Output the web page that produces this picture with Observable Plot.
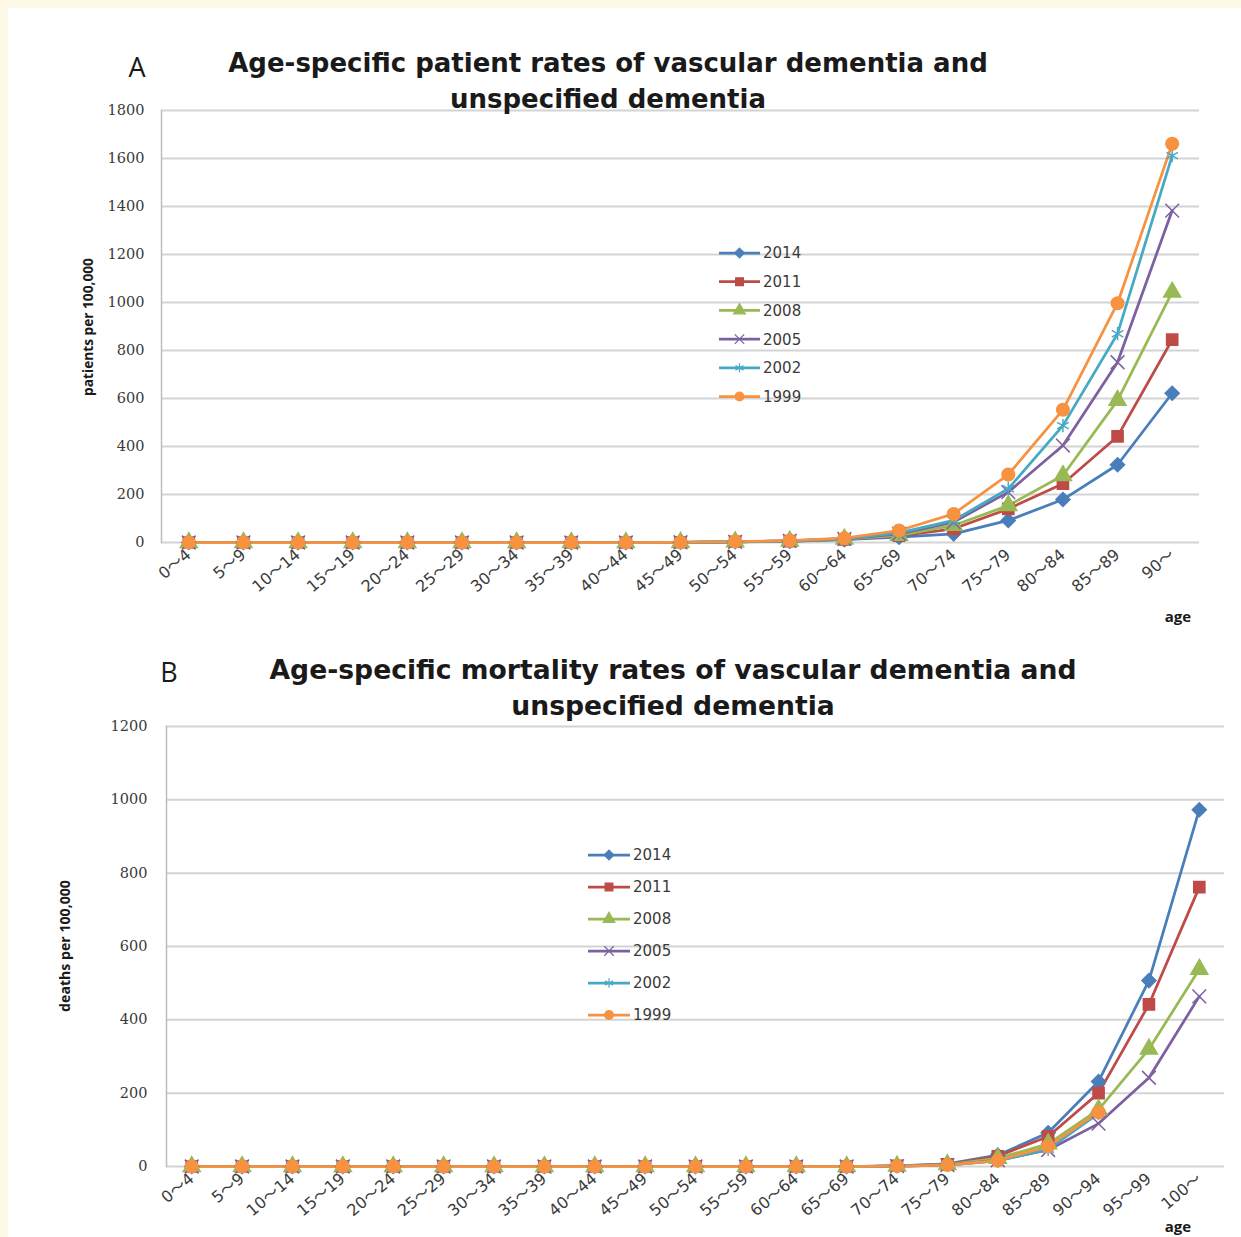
<!DOCTYPE html>
<html><head><meta charset="utf-8">
<script src="https://cdn.jsdelivr.net/npm/d3@7"></script>
<script src="https://cdn.jsdelivr.net/npm/@observablehq/plot@0.6"></script>
<style>
html,body{margin:0;padding:0;background:#fef9e6;}
#page{position:relative;width:1241px;height:1237px;overflow:hidden;background:#fef9e6;}
#panel{position:absolute;left:8px;top:8px;width:1233px;height:1229px;background:#fff;}
.chart{position:absolute;left:0;}
</style></head><body>
<div id="page"><div id="panel"></div></div>
<script>
// ---- data ----
const years = ["2014","2011","2008","2005","2002","1999"];
const colors = ["#4a7ebb","#be4b48","#98b954","#7d60a0","#46aac5","#f69240"];
const symbols = ["diamond2","square","triangle","times","asterisk","circle"];

const agesA = ["0～4","5～9","10～14","15～19","20～24","25～29","30～34","35～39","40～44","45～49","50～54","55～59","60～64","65～69","70～74","75～79","80～84","85～89","90～"];
const patients2014 = [0,0,0,0,0,0,0,0,0,1,3,5,12,22,36,92,179,324,622];
const patients2011 = [0,0,0,0,0,0,0,0,0,1,3,6,13,28,57,140,245,442,845];
const patients2008 = [0,0,0,0,0,0,0,0,0,1,3,6,14,30,71,154,279,592,1043];
const patients2005 = [0,0,0,0,0,0,0,0,0,1,3,7,15,36,85,210,404,751,1383];
const patients2002 = [0,0,0,0,0,0,0,0,0,1,3,7,16,40,92,224,487,870,1612];
const patients1999 = [0,0,0,0,0,0,0,0,0,1,4,8,18,50,119,283,553,997,1661];

const agesB = ["0～4","5～9","10～14","15～19","20～24","25～29","30～34","35～39","40～44","45～49","50～54","55～59","60～64","65～69","70～74","75～79","80～84","85～89","90～94","95～99","100～"];
const deaths2014 = [0,0,0,0,0,0,0,0,0,0,0,0,0,0,2,7,31,92,232,507,973];
const deaths2011 = [0,0,0,0,0,0,0,0,0,0,0,0,0,0,2,6,28,82,200,442,762];
const deaths2008 = [0,0,0,0,0,0,0,0,0,0,0,0,0,0,1,5,22,62,155,320,538];
const deaths2005 = [0,0,0,0,0,0,0,0,0,0,0,0,0,0,1,4,17,45,117,242,464];
const deaths2002 = [0,0,0,0,0,0,0,0,0,0,0,0,0,0,1,4,15,47,145,null,null];
const deaths1999 = [0,0,0,0,0,0,0,0,0,0,0,0,0,0,1,4,16,55,148,null,null];

const ticksA = [0,200,400,600,800,1000,1200,1400,1600,1800];
const ticksB = [0,200,400,600,800,1000,1200];

const titleA = ["Age-specific patient rates of vascular dementia and","unspecified dementia"];
const titleB = ["Age-specific mortality rates of vascular dementia and","unspecified dementia"];
const yLabelA = "patients per 100,000";
const yLabelB = "deaths per 100,000";
const xLabel = "age";

// ---- build tables ----
function table(ages, series) {
  const out = [];
  years.forEach((yr, i) => ages.forEach((a, j) => out.push({age: a, year: yr, value: series[i][j]})));
  return out;
}
const dataA = table(agesA, [patients2014,patients2011,patients2008,patients2005,patients2002,patients1999]);
const dataB = table(agesB, [deaths2014,deaths2011,deaths2008,deaths2005,deaths2002,deaths1999]);

const sansFont = "'Open Sans', 'Noto Sans CJK JP', sans-serif";
const tickFont = "'DejaVu Sans', 'Noto Sans CJK JP', sans-serif";
const titleFont = "'DejaVu Sans', sans-serif";
const serifFont = "'DejaVu Serif', serif";

function makeChart(o) {
  return Plot.plot({
    width: 1241, height: o.height,
    marginLeft: o.ml, marginRight: o.mr, marginTop: o.mt, marginBottom: o.mb,
    style: {background: "transparent", overflow: "visible", color: "#3a3a3a", fontFamily: sansFont},
    x: {type: "point", domain: o.ages, padding: 0.5, align: 0.5, round: false, label: null},
    y: {domain: o.ydomain, label: null},
    color: {domain: years, range: colors},
    symbol: {domain: years, range: symbols},
    marks: [
      Plot.gridY(o.ticks, {stroke: "#d4d4d4", strokeOpacity: 1, strokeWidth: 2}),
      Plot.frame({anchor: "left", stroke: "#bdbdbd", strokeWidth: 1.5}),
      Plot.axisY(o.ticks, {tickSize: 0, tickPadding: o.tp, tickFormat: d => String(d), fontFamily: serifFont, fontSize: 14.5, label: null}),
      Plot.axisX({tickSize: 0, tickPadding: 10, tickRotate: -40, fontSize: 16, fontFamily: tickFont, label: null}),
      Plot.line(o.data, {x: "age", y: "value", z: "year", stroke: "year", strokeWidth: 2.75, curve: "linear"}),
      Plot.dot(o.data.filter(d => d.value != null), {x: "age", y: "value", symbol: "year", fill: "year", stroke: "year", r: 6.3, strokeWidth: 1.5})
    ]
  });
}

const d3Symbols = [d3.symbolDiamond2, d3.symbolSquare, d3.symbolTriangle, d3.symbolTimes, d3.symbolAsterisk, d3.symbolCircle];

function fit(sel, target) {
  const w = sel.node().getComputedTextLength();
  const fs = +sel.attr("font-size");
  if (w > 0) sel.attr("font-size", fs * target / w);
  return +sel.attr("font-size");
}

function decorate(svg, o) {
  const s = d3.select(svg);
  // legend
  const g = s.append("g");
  years.forEach((yr, i) => {
    const y = o.lg.y0 + i * o.lg.dy;
    g.append("line").attr("x1", o.lg.x0).attr("x2", o.lg.x0 + o.lg.len).attr("y1", y).attr("y2", y)
      .attr("stroke", colors[i]).attr("stroke-width", 2.75);
    g.append("path").attr("d", d3.symbol(d3Symbols[i], 60)())
      .attr("transform", `translate(${o.lg.x0 + o.lg.len / 2},${y})`)
      .attr("fill", colors[i]).attr("stroke", colors[i]).attr("stroke-width", 1.2);
    g.append("text").attr("x", o.lg.x0 + o.lg.len + 3).attr("y", y).attr("dy", "0.36em")
      .attr("text-anchor", "start")
      .attr("font-family", tickFont).attr("font-size", 15).attr("fill", "#3a3a3a").text(yr);
  });
  // titles
  const lines = o.title.map((t, i) =>
    s.append("text").attr("x", o.tx).attr("y", o.ty + i * 36).attr("dy", "0.36em")
      .attr("text-anchor", "middle").attr("font-family", titleFont).attr("font-weight", 700)
      .attr("font-size", 24).attr("fill", "#1a1a1a").text(t));
  const fs = fit(lines[0], o.tw);
  lines[1].attr("font-size", fs);
  s.append("text").attr("x", o.letter[1]).attr("y", o.letter[2]).attr("dy", "0.36em")
    .attr("text-anchor", "middle").attr("font-family", sansFont).attr("font-size", 27)
    .attr("fill", "#1a1a1a").text(o.letter[0]);
  // y label
  const yl = s.append("text").attr("transform", `translate(${o.yl[0]},${o.yl[1]}) rotate(-90)`).attr("dy", "0.36em")
    .attr("text-anchor", "middle").attr("font-family", sansFont).attr("font-weight", 700)
    .attr("font-size", 12).attr("fill", "#1a1a1a").text(o.ylabel);
  fit(yl, o.yl[2]);
  // x label
  s.append("text").attr("x", o.xl[0]).attr("y", o.xl[1]).attr("dy", "0.36em")
    .attr("text-anchor", "middle").attr("font-family", sansFont).attr("font-weight", 700)
    .attr("font-size", 15).attr("fill", "#1a1a1a").text(xLabel);
}

const page = document.getElementById("page");

const optA = {height: 640, ml: 161, mr: 42, mt: 110, mb: 98, tp: 17, ages: agesA, ydomain: [0, 1800], ticks: ticksA, data: dataA,
  lg: {x0: 719, y0: 253, dy: 28.7, len: 41}, title: titleA, tx: 608, ty: 63, tw: 760, letter: ["A", 137, 67],
  yl: [88, 327, 138], ylabel: yLabelA, xl: [1178, 617]};
const svgA = makeChart(optA);
svgA.classList.add("chart"); svgA.style.position = "absolute"; svgA.style.top = "0px"; svgA.style.left = "0px";
page.appendChild(svgA);
decorate(svgA, optA);

const optB = {height: 597, ml: 166, mr: 17, mt: 86, mb: 71, tp: 19, ages: agesB, ydomain: [0, 1200], ticks: ticksB, data: dataB,
  lg: {x0: 588, y0: 215, dy: 32, len: 42}, title: titleB, tx: 673, ty: 29, tw: 807, letter: ["B", 169, 32],
  yl: [65, 306, 132], ylabel: yLabelB, xl: [1178, 587]};
const svgB = makeChart(optB);
svgB.classList.add("chart"); svgB.style.position = "absolute"; svgB.style.top = "640px"; svgB.style.left = "0px";
page.appendChild(svgB);
decorate(svgB, optB);
</script>
</body></html>
